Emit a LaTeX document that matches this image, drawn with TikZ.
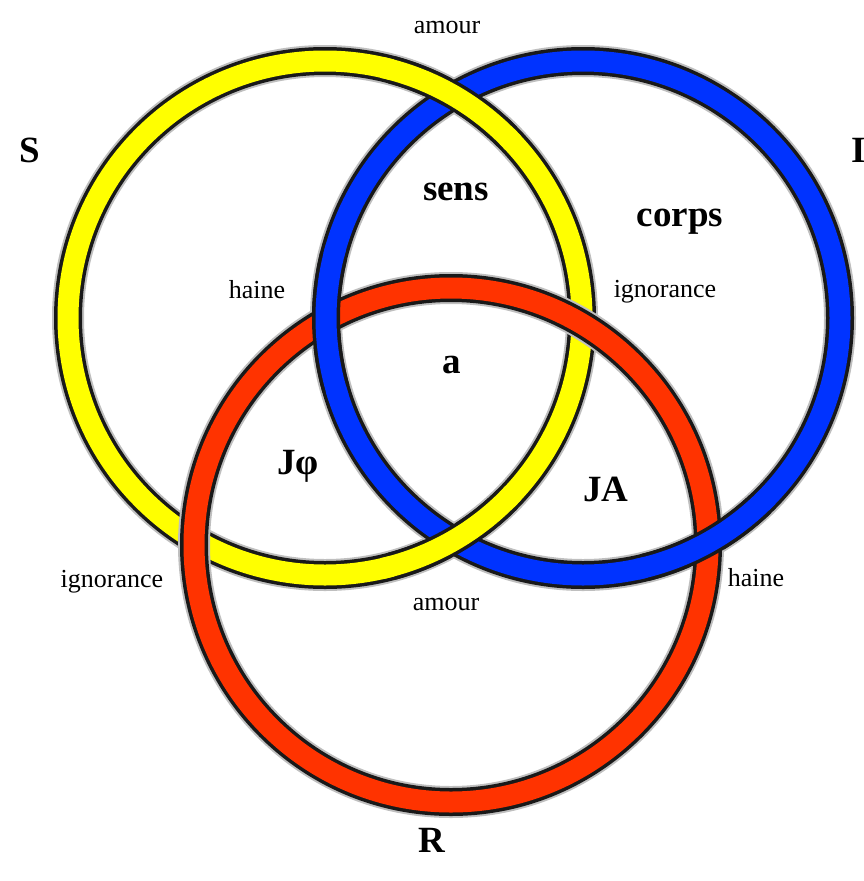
\documentclass[tikz,border=0pt]{standalone}
\usepackage{fontspec}
\setmainfont{Liberation Serif}
\definecolor{ringyellow}{RGB}{255,255,0}
\definecolor{ringblue}{RGB}{0,51,255}
\definecolor{ringred}{RGB}{255,51,0}

\begin{document}
\begin{tikzpicture}[x=1pt,y=-1pt,
 word/.style={font=\fontsize{26}{28}\selectfont,inner sep=0pt},
 region/.style={font=\fontsize{37}{40}\selectfont\bfseries,inner sep=0pt},
 halo/.style={line width=32pt,black!25},
 edge/.style={line width=28pt,black!90},
 band/.style={line width=21pt}]
 \useasboundingbox (0,0) rectangle (864,881);
 \coordinate (Y) at (325,318);
 \coordinate (B) at (583,318);
 \coordinate (R) at (451,545);
 \foreach \c/\col in {Y/ringyellow,B/ringblue,R/ringred} {
  \draw[halo] (\c) circle[radius=257];
  \draw[edge] (\c) circle[radius=257];
  \draw[band,\col] (\c) circle[radius=257];
 }
 \foreach \c/\col/\a in {Y/ringyellow/-60,Y/ringyellow/60,B/ringblue/179,B/ringblue/61} {
  \draw[edge] (\c) ++({\a-15}:257) arc[start angle={\a-15},delta angle=30,radius=257];
  \draw[band,\col] (\c) ++({\a-17}:257) arc[start angle={\a-17},delta angle=34,radius=257];
 }
 \node[word] (amourtop) at (447,28) {amour};
 \node[word] (hainel) at (257,290) {haine};
 \node[word] (ignr) at (665,292) {ignorance};
 \node[word] (ignl) at (112,582) {ignorance};
 \node[word] (amourbot) at (446,604) {amour};
 \node[word] (hainer) at (756,578) {haine};
 \node[region] (S) at (30,150) {S};
 \node[region,anchor=west] (I) at (851,150) {I};
 \node[region] (R-label) at (432,840) {R};
 \node[region] (sens) at (456,192) {sens};
 \node[region] (corps) at (680,222) {corps};
 \node[region] (a) at (452,365) {a};
 \node[region] (Jphi) at (298,466) {Jφ};
 \node[region] (JA) at (606,489) {JA};
\end{tikzpicture}
\end{document}
